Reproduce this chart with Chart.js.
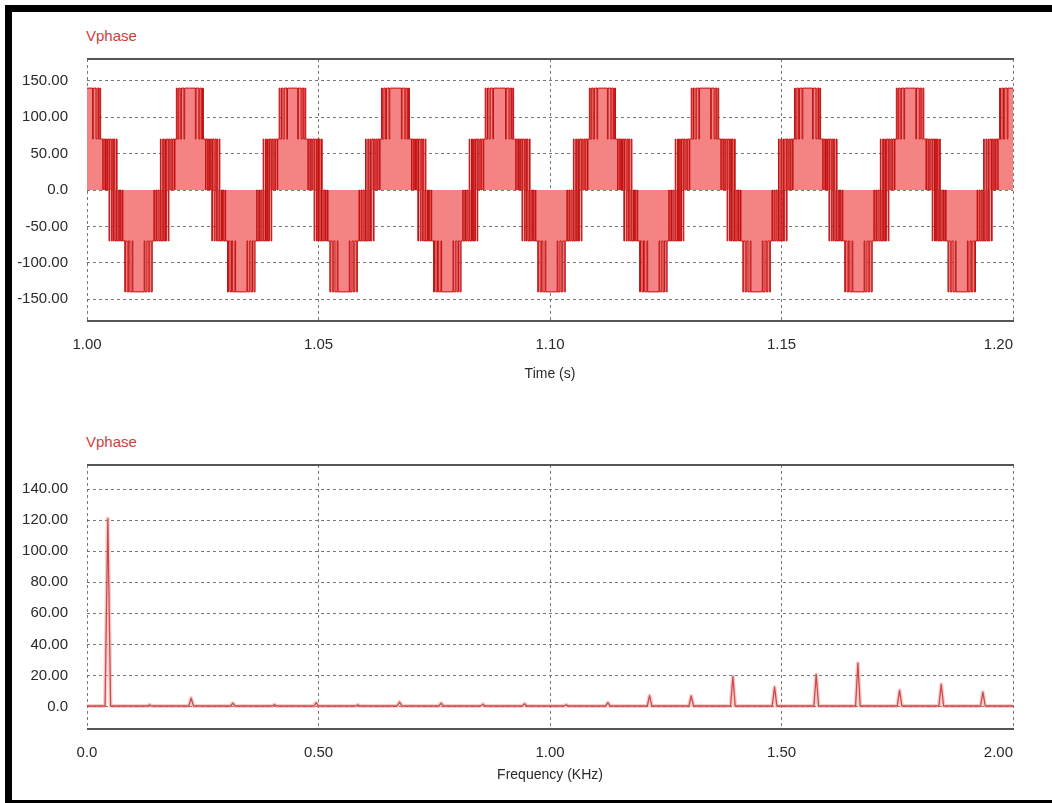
<!DOCTYPE html>
<html>
<head>
  <title>Vphase</title>
  <script src="https://cdn.jsdelivr.net/npm/chart.js@4.4.0/dist/chart.umd.min.js"></script>
  <style>
    body { margin: 0; background: #fff; }
    .box { position: absolute; }
    .bar { position: absolute; background: #000; }
    .name { position: absolute; left: 86px; font: 15px 'Liberation Sans', Arial, sans-serif; color: #d23c3c; line-height: 15px; }
  </style>
</head>
<body>
  <div class="bar" style="left:5px;top:5px;width:1047px;height:7px"></div>
  <div class="bar" style="left:5px;top:5px;width:7px;height:798px"></div>
  <div class="bar" style="left:5px;top:800px;width:1047px;height:3px"></div>
  <div class="name" style="top:28px">Vphase</div>
  <div class="name" style="top:434px">Vphase</div>
  <div class="box" style="left:10px;top:0;width:1042px;height:400px"><canvas id="timeChart"></canvas></div>
  <div class="box" style="left:10px;top:400px;width:1042px;height:403px"><canvas id="fftChart"></canvas></div>

  <script>
    // --- graphe du haut : tension de phase ---
    const timeTicks = [1.00, 1.05, 1.10, 1.15, 1.20];
    const timeTickLabels = ['1.00', '1.05', '1.10', '1.15', '1.20'];
    const voltTicks = [-150, -100, -50, 0, 50, 100, 150];
    const voltTickLabels = ['-150.00', '-100.00', '-50.00', '0.0', '50.00', '100.00', '150.00'];

    // instants des crêtes positives (s)
    const peakTimes = [1.0000, 1.0222, 1.0443, 1.0667, 1.0892, 1.1112, 1.1335, 1.1555, 1.1778, 1.2000];

    // commutations sur une période, en ms après la crête, et niveau atteint (V)
    const stepOffsetsMs = [
      0.00, 1.20, 1.35, 1.95, 2.15, 2.50, 2.75, 2.95, 3.40, 3.50,
      3.85, 4.00, 4.25, 4.45, 4.75, 4.90, 5.25, 5.45, 5.70, 5.85,
      6.05, 6.35, 6.50, 6.85, 7.05, 7.20, 7.35, 7.65, 7.75, 8.15,
      8.35, 8.65, 9.00, 9.25, 9.75, 9.90,
      12.35, 12.50, 12.95, 13.20, 13.55, 13.85, 14.10, 14.45, 14.55, 14.90,
      15.05, 15.35, 15.55, 15.85, 16.00, 16.35, 16.55, 16.80, 16.95, 17.20,
      17.55, 17.70, 17.95, 18.15, 18.40, 18.55, 18.90, 19.00, 19.30, 19.50,
      19.80, 20.15, 20.40, 20.95, 21.10
    ];
    const stepLevels = [
      140, 70, 140, 70, 140, 70, 140, 70, 0, 70,
      0, 70, 0, 70, -70, 70, -70, 70, -70, 70,
      -70, 70, -70, 0, -70, 0, -70, 0, -70, -140,
      -70, -140, -70, -140, -70, -140,
      -70, -140, -70, -140, -70, -140, -70, 0, -70, 0,
      -70, 0, -70, 70, -70, 70, -70, 70, -70, 70,
      -70, 70, 0, 70, 0, 70, 0, 70, 140, 70,
      140, 70, 140, 70, 140
    ];

    // --- graphe du bas : spectre ---
    const freqTicks = [0, 0.5, 1.0, 1.5, 2.0];
    const freqTickLabels = ['0.0', '0.50', '1.00', '1.50', '2.00'];
    const ampTicks = [0, 20, 40, 60, 80, 100, 120, 140];
    const ampTickLabels = ['0.0', '20.00', '40.00', '60.00', '80.00', '100.00', '120.00', '140.00'];

    const harmonicKHz = [0.045, 0.135, 0.225, 0.315, 0.405, 0.495, 0.585, 0.675, 0.765, 0.855, 0.945,
                         1.035, 1.125, 1.215, 1.305, 1.395, 1.485, 1.575, 1.665, 1.755, 1.845, 1.935];
    const harmonicAmp = [121, 1.0, 5.4, 2.2, 1.2, 2.5, 1.0, 2.8, 2.2, 1.5, 1.8,
                         1.0, 2.5, 7.0, 6.8, 19.3, 12.5, 20.6, 27.9, 10.4, 14.3, 9.3];
    const noiseFloor = 0.3;

    const FONT = "'Liberation Sans', Arial, sans-serif";
    const TEXT = '#2a2a2a';

    // points de la forme d'onde : motif d'une période recopié à chaque crête lue
    const wavePoints = [];
    peakTimes.forEach(function(p) {
      stepOffsetsMs.forEach(function(ms, i) {
        const t = p + ms / 1000;
        if (t <= 1.2) wavePoints.push({x: t, y: stepLevels[i]});
      });
    });

    // spectre : un pic étroit par harmonique
    const specPoints = [{x: 0, y: noiseFloor}];
    harmonicKHz.forEach(function(f, i) {
      const w = i === 0 ? 0.006 : 0.005;
      specPoints.push({x: f - w, y: noiseFloor});
      specPoints.push({x: f, y: harmonicAmp[i]});
      specPoints.push({x: f + w, y: noiseFloor});
    });
    specPoints.push({x: 2.0, y: noiseFloor});

    // traits pleins en haut et en bas de la zone de tracé
    const framePlugin = {
      id: 'frame',
      afterDraw(chart) {
        const a = chart.chartArea, ctx = chart.ctx;
        ctx.save();
        ctx.strokeStyle = '#555';
        ctx.lineWidth = 2;
        ctx.beginPath();
        ctx.moveTo(a.left, a.top); ctx.lineTo(a.right + 1, a.top);
        ctx.moveTo(a.left, a.bottom); ctx.lineTo(a.right + 1, a.bottom);
        ctx.stroke();
        ctx.restore();
      }
    };

    function labelsFrom(labels) {
      return function(v, i) {
        return i === labels.length - 1 ? labels[i] + '\u00a0'.repeat(7) : labels[i];
      };
    }

    function makeOptions(cfg) {
      return {
        responsive: true,
        maintainAspectRatio: false,
        animation: false,
        events: [],
        layout: { padding: { top: cfg.top, right: 39, left: 0, bottom: 0 } },
        plugins: { legend: { display: false }, tooltip: { enabled: false } },
        scales: {
          x: {
            type: 'linear',
            min: cfg.xMin, max: cfg.xMax,
            afterBuildTicks: function(s) { s.ticks = cfg.xTicks.map(function(v) { return {value: v}; }); },
            afterFit: function(s) { s.height = cfg.xHeight; s.paddingLeft = 0; s.paddingRight = 0; },
            grid: { color: 'rgba(105,105,105,0.9)', lineWidth: 1, drawTicks: false },
            border: { display: false, dash: [3, 3] },
            ticks: {
              callback: labelsFrom(cfg.xLabels),
              padding: 14.5, maxRotation: 0, autoSkip: false,
              color: TEXT, font: { family: FONT, size: 15 }
            },
            title: {
              display: true, text: cfg.xTitle, color: TEXT,
              font: { family: FONT, size: 14 }, padding: { top: 0, bottom: cfg.titlePad }
            }
          },
          y: {
            min: cfg.yMin, max: cfg.yMax,
            afterBuildTicks: function(s) { s.ticks = cfg.yTicks.map(function(v) { return {value: v}; }); },
            afterFit: function(s) { s.width = 77; s.paddingTop = 0; s.paddingBottom = 0; },
            grid: { color: 'rgba(105,105,105,0.9)', lineWidth: 1, drawTicks: false },
            border: { display: false, dash: [3, 3] },
            ticks: {
              callback: function(v, i) { return cfg.yLabels[i]; },
              padding: 19, autoSkip: false,
              color: TEXT, font: { family: FONT, size: 15 }
            }
          }
        }
      };
    }

    new Chart(document.getElementById('timeChart'), {
      type: 'line',
      data: {
        datasets: [{
          data: wavePoints,
          stepped: true,
          borderColor: '#c41010',
          borderWidth: 1,
          backgroundColor: '#f48484',
          fill: 'origin',
          pointRadius: 0
        }]
      },
      options: makeOptions({
        top: 59, xHeight: 79, titlePad: 17.5,
        xMin: 1.0, xMax: 1.2, xTicks: timeTicks, xLabels: timeTickLabels, xTitle: 'Time (s)',
        yMin: -180, yMax: 180, yTicks: voltTicks, yLabels: voltTickLabels
      }),
      plugins: [framePlugin]
    });

    new Chart(document.getElementById('fftChart'), {
      type: 'line',
      data: {
        datasets: [
          {
            data: specPoints,
            borderColor: 'rgba(236,130,130,0.4)',
            borderWidth: 4,
            borderJoinStyle: 'round',
            pointRadius: 0,
            fill: false
          },
          {
            data: specPoints,
            borderColor: '#b82828',
            borderWidth: 1.3,
            borderJoinStyle: 'round',
            pointRadius: 0,
            fill: false
          }
        ]
      },
      options: makeOptions({
        top: 65, xHeight: 74, titlePad: 19.5,
        xMin: 0, xMax: 2.0, xTicks: freqTicks, xLabels: freqTickLabels, xTitle: 'Frequency (KHz)',
        yMin: -14.5, yMax: 155.5, yTicks: ampTicks, yLabels: ampTickLabels
      }),
      plugins: [framePlugin]
    });
  </script>
</body>
</html>
